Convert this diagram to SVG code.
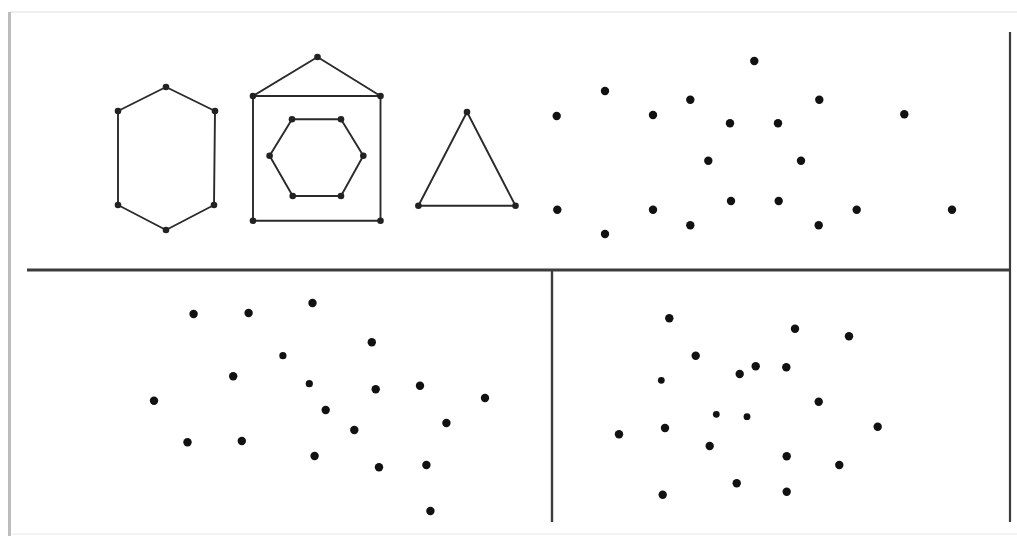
<svg xmlns="http://www.w3.org/2000/svg" width="1017" height="536" viewBox="0 0 1017 536">
<style>
.shape{fill:none;stroke:#2a2a2a;stroke-width:1.9;stroke-linejoin:round}
.v{fill:#222}
.d{fill:#111}
.rule{stroke:#3c3c3c;fill:none}
</style>
<rect width="1017" height="536" fill="#fff"/>
<g id="frame">
<line x1="10" y1="12" x2="1017" y2="12" stroke="#e8e8e8" stroke-width="1.5"/>
<line x1="9.5" y1="12" x2="9.5" y2="536" stroke="#bdbdbd" stroke-width="3"/>
<line x1="12" y1="534" x2="1017" y2="534" stroke="#eeeeee" stroke-width="1.5"/>
</g>
<g id="rules">
<line class="rule" x1="27" y1="270" x2="1011" y2="270" stroke-width="3.2"/>
<line class="rule" x1="552" y1="270" x2="552" y2="522" stroke-width="2.4"/>
<line class="rule" x1="1010" y1="32" x2="1010" y2="522" stroke-width="2.2"/>
</g>
<g id="hexagon">
<polygon class="shape" points="166,87 215,111 214,205 166,230 118,205 118,111"/>
<g class="v"><circle cx="166" cy="87" r="3.3"/><circle cx="215" cy="111" r="3.3"/><circle cx="214" cy="205" r="3.3"/><circle cx="166" cy="230" r="3.3"/><circle cx="118" cy="205" r="3.3"/><circle cx="118" cy="111" r="3.3"/></g>
</g>
<g id="house">
<polygon class="shape" points="253,96 317.5,57 380.5,96"/>
<rect class="shape" x="253" y="96" width="127.5" height="124.7"/>
<polygon class="shape" points="292,119.3 341,119.3 363.3,155.7 341,196 292.7,196 269.6,155.7"/>
<g class="v"><circle cx="317.5" cy="57" r="3.3"/><circle cx="253" cy="96" r="3.3"/><circle cx="380.5" cy="96" r="3.3"/><circle cx="253" cy="220.7" r="3.3"/><circle cx="380.5" cy="220.7" r="3.3"/>
<circle cx="292" cy="119.3" r="3.3"/><circle cx="341" cy="119.3" r="3.3"/><circle cx="363.3" cy="155.7" r="3.3"/><circle cx="341" cy="196" r="3.3"/><circle cx="292.7" cy="196" r="3.3"/><circle cx="269.6" cy="155.7" r="3.3"/></g>
</g>
<g id="triangle">
<polygon class="shape" points="467,112 515.5,205.7 418.4,205.7"/>
<g class="v"><circle cx="467" cy="112" r="3.3"/><circle cx="515.5" cy="205.7" r="3.3"/><circle cx="418.4" cy="205.7" r="3.3"/></g>
</g>
<g id="dots-top-right" class="d">
<circle cx="556.7" cy="116" r="4.2"/><circle cx="605" cy="91" r="4.2"/><circle cx="653" cy="115" r="4.2"/><circle cx="690.3" cy="99.7" r="4.2"/><circle cx="754.3" cy="61" r="4.2"/><circle cx="730" cy="123.3" r="4.2"/><circle cx="778" cy="123.3" r="4.2"/><circle cx="819.3" cy="99.7" r="4.2"/><circle cx="904.3" cy="114.3" r="4.2"/><circle cx="708.3" cy="160.7" r="4.2"/><circle cx="801" cy="160.7" r="4.2"/><circle cx="557.3" cy="209.7" r="4.2"/><circle cx="605" cy="234" r="4.2"/><circle cx="653" cy="209.7" r="4.2"/><circle cx="690.3" cy="225.3" r="4.2"/><circle cx="731" cy="201" r="4.2"/><circle cx="778.7" cy="201" r="4.2"/><circle cx="818.7" cy="225.3" r="4.2"/><circle cx="856.7" cy="209.7" r="4.2"/><circle cx="952" cy="209.7" r="4.2"/>
</g>
<g id="dots-bottom-left" class="d">
<circle cx="193.6" cy="314" r="4.2"/><circle cx="248.6" cy="313" r="4.2"/><circle cx="312.5" cy="303" r="4.2"/><circle cx="371.8" cy="342.3" r="4.2"/><circle cx="282.9" cy="355.7" r="3.6"/><circle cx="233.2" cy="376.3" r="4.2"/><circle cx="309.3" cy="383.7" r="3.6"/><circle cx="375.7" cy="389.3" r="4.2"/><circle cx="420" cy="385.7" r="4.2"/><circle cx="485" cy="398" r="4.2"/><circle cx="154" cy="400.7" r="4.2"/><circle cx="325.7" cy="410" r="4.2"/><circle cx="446.4" cy="423" r="4.2"/><circle cx="354.3" cy="430" r="4.2"/><circle cx="187.5" cy="442.3" r="4.2"/><circle cx="241.8" cy="441" r="4.2"/><circle cx="314.6" cy="456" r="4.2"/><circle cx="379" cy="467.3" r="4.2"/><circle cx="426.4" cy="465" r="4.2"/><circle cx="430.4" cy="511" r="4.2"/>
</g>
<g id="dots-bottom-right" class="d">
<circle cx="669.3" cy="318.3" r="4.2"/><circle cx="795" cy="328.7" r="4.2"/><circle cx="849" cy="336.3" r="4.2"/><circle cx="695.7" cy="355.7" r="4.2"/><circle cx="755.7" cy="366.3" r="4.2"/><circle cx="739.7" cy="374" r="4.2"/><circle cx="786.3" cy="367.3" r="4.2"/><circle cx="661.3" cy="380.3" r="3.4"/><circle cx="818.7" cy="401.7" r="4.2"/><circle cx="716.3" cy="414.3" r="3.4"/><circle cx="747" cy="416.7" r="3.4"/><circle cx="619" cy="434.3" r="4.2"/><circle cx="665" cy="428" r="4.2"/><circle cx="877.7" cy="426.7" r="4.2"/><circle cx="709.7" cy="446" r="4.2"/><circle cx="786.7" cy="456.3" r="4.2"/><circle cx="839.3" cy="465" r="4.2"/><circle cx="736.7" cy="483.3" r="4.2"/><circle cx="662.7" cy="494.7" r="4.2"/><circle cx="786.7" cy="491.7" r="4.2"/>
</g>
</svg>
